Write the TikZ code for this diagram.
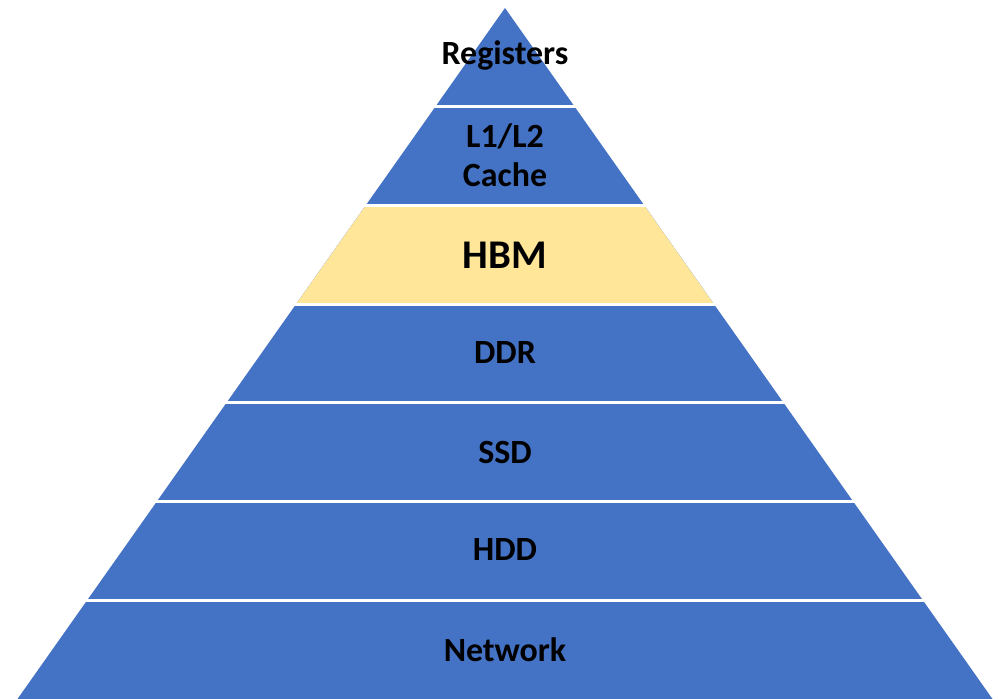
\documentclass[tikz,border=0pt]{standalone}
\usepackage{fontspec}
\setmainfont{Carlito}
\usetikzlibrary{calc}
\definecolor{tierblue}{HTML}{4472C4}
\definecolor{tieryellow}{HTML}{FFE699}
\begin{document}
\begin{tikzpicture}[
  x=0.02cm, y=-0.02cm,
  tier/.style={font=\bfseries\fontsize{19.3}{22}\selectfont, align=center, text=black, inner sep=0pt},
  big/.style={tier, font=\bfseries\fontsize{23.2}{26}\selectfont},
  gap/.style={draw=white, line width=0.055cm, shorten <=-3pt, shorten >=-3pt}
]
\useasboundingbox (0,0) rectangle (998,699);
\coordinate (apex) at (505,8);
\coordinate (bl) at (17.5,699);
\coordinate (br) at (992.5,699);

% pyramid and the HBM tier
\fill[tierblue] (apex) -- (br) -- (bl) -- cycle;
\fill[tieryellow] ($(apex)!2/7!(bl)$) -- ($(apex)!2/7!(br)$) -- ($(apex)!3/7!(br)$) -- ($(apex)!3/7!(bl)$) -- cycle;

% white gaps between tiers
\foreach \k in {1,...,6}
  \draw[gap] ($(apex)!\k/7!(bl)$) -- ($(apex)!\k/7!(br)$);

\node[tier] (regs) at (505,55) {Registers};
\node[tier] (cache) at (505,155) {L1/L2\\Cache};
\node[big] (hbm) at (505,255) {HBM};
\node[tier] (ddr) at (505,353) {DDR};
\node[tier] (ssd) at (505,452) {SSD};
\node[tier] (hdd) at (505,550) {HDD};
\node[tier] (net) at (505,650) {Network};
\end{tikzpicture}
\end{document}
